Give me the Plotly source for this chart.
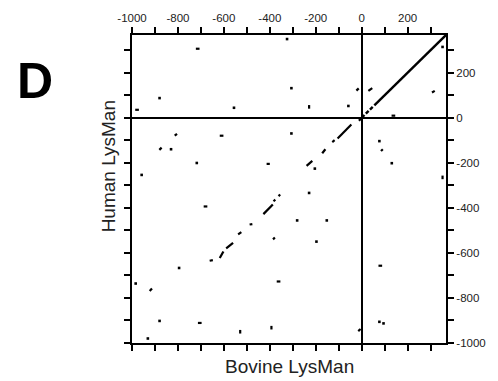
import plotly.graph_objects as go

# Isolated match dots (Bovine position, Human position)
dot_x = [-325, -880, -556, -306, -58, -306, -830, -718, -958, -204, -229, -281, -152,
         -795, -984, -880, -931, -197, 352, 77, 131, 77, 95]
dot_y = [349, 87, 44, 131, 52, -70, -140, -201, -254, -226, -334, -456, -456,
         -667, -736, -902, -980, -550, 314, -104, -202, -906, -913]

# Short match runs (start/end positions)
run_x0 = [-722, -986, -618, -688, -713, -370, 73, 130, -414, -386,
          -229, 352, -529, -393,
          -814, -881, -923, -23, 29, 306, 84, -15,
          -12, -45, -118, -158, -215, -355, -376, -387, -476, -524, -560, -602, -648]
run_y0 = [306, 35, -80, -394, -911, -727, -657, 9, -205, -540,
          40, -273, -958, -940,
          -80, -143, -769, 120, 119, 112, -148, -947,
          -14, -30, -100, -140, -192, -341, -364, -385, -472, -508, -556, -594, -632]
run_x1 = [-706, -970, -602, -672, -697, -354, 89, 146, -400, -378,
          -229, 352, -529, -393,
          -804, -871, -913, -13, 46, 318, 92, -5,
          0, -105, -128, -172, -240, -362, -384, -428, -488, -538, -590, -618, -662]
run_y1 = [306, 35, -80, -394, -911, -727, -657, 9, -205, -532,
          56, -257, -942, -924,
          -72, -133, -758, 130, 131, 119, -140, -938,
          0, -92, -108, -158, -214, -348, -371, -428, -474, -518, -580, -623, -635]

# Identity diagonal in the upper-right quadrant
diag_x0 = [0, 18, 36, 55]
diag_y0 = [0, 18, 36, 55]
diag_x1 = [12, 30, 48, 367]
diag_y1 = [12, 30, 48, 367]

tick_vals = list(range(-1000, 400, 100))
tick_text = [str(v) if v % 200 == 0 else "" for v in tick_vals]


def segs(x0, y0, x1, y1):
    xs, ys = [], []
    for a, b, c, d in zip(x0, y0, x1, y1):
        xs += [a, c, None]
        ys += [b, d, None]
    return xs, ys


fig = go.Figure()
rx, ry = segs(run_x0, run_y0, run_x1, run_y1)
fig.add_trace(go.Scatter(x=rx, y=ry, mode="lines", line=dict(color="black", width=2.2),
                         hoverinfo="skip", showlegend=False))
dx, dy = segs(diag_x0, diag_y0, diag_x1, diag_y1)
fig.add_trace(go.Scatter(x=dx, y=dy, mode="lines", line=dict(color="black", width=2.4),
                         hoverinfo="skip", showlegend=False))
fig.add_trace(go.Scatter(x=dot_x, y=dot_y, mode="markers",
                         marker=dict(symbol="square", size=2.6, color="black", line=dict(width=0)),
                         showlegend=False))

font = "Liberation Sans, Arial, sans-serif"
axis_common = dict(
    tickvals=tick_vals, ticktext=tick_text, ticks="outside", ticklen=6, tickwidth=1.5,
    tickcolor="black", showline=True, linecolor="black", linewidth=2, mirror="ticks",
    showgrid=False, zeroline=True, zerolinecolor="black", zerolinewidth=2,
    tickfont=dict(family=font, size=11.5, color="#222"),
)
fig.update_xaxes(range=[-1000, 367], side="top", **axis_common)
fig.update_yaxes(range=[-1000, 367], side="right", **axis_common)

fig.add_annotation(text="Human LysMan", xref="paper", yref="paper", x=-0.075, y=0.575,
                   textangle=-90, showarrow=False, xanchor="center", yanchor="middle",
                   font=dict(family=font, size=19, color="#222"))
fig.add_annotation(text="Bovine LysMan", xref="paper", yref="paper", x=0.5, y=-0.077,
                   showarrow=False, xanchor="center", yanchor="middle",
                   font=dict(family=font, size=19, color="#222"))
fig.add_annotation(text="<b>D</b>", xref="paper", yref="paper", x=-0.309, y=0.85,
                   showarrow=False, xanchor="center", yanchor="middle",
                   font=dict(family=font, size=50, color="black"))

fig.update_layout(width=498, height=381, margin=dict(l=132, r=46, t=30, b=38),
                  paper_bgcolor="white", plot_bgcolor="white")
fig.write_html("out.html")
